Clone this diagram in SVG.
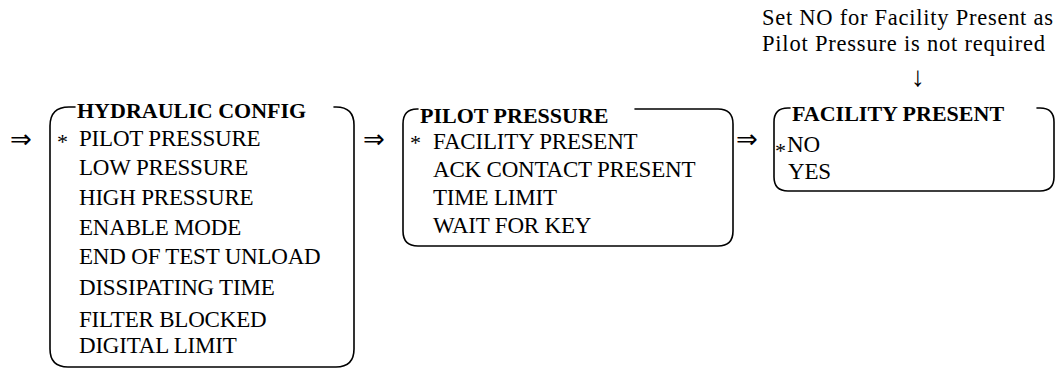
<svg xmlns="http://www.w3.org/2000/svg" width="1057" height="370" viewBox="0 0 1057 370">
<style>
  .frame { fill: none; stroke: #000; stroke-width: 1.6; stroke-linecap: round; }
  .t { font-family: "Liberation Serif", "Times New Roman", serif; font-size: 23px; fill: #000; letter-spacing: -0.2px; }
  .title { font-family: "Liberation Serif", "Times New Roman", serif; font-size: 22px; font-weight: bold; fill: #000; }
  .star { font-family: "Liberation Serif", "Times New Roman", serif; font-size: 22px; fill: #000; }
  .note { font-family: "Liberation Serif", "Times New Roman", serif; font-size: 22.5px; fill: #000; }
  .arr { font-family: "DejaVu Sans", sans-serif; font-size: 26px; fill: #000; }
  .down { font-family: "Liberation Serif", serif; font-size: 28px; fill: #000; }
</style>
<rect width="1057" height="370" fill="#fff"/>

<g id="connectors">
  <text class="arr" x="10" y="148">⇒</text>
  <text class="arr" x="363" y="148">⇒</text>
  <text class="arr" x="736" y="148">⇒</text>
  <text class="down" x="911" y="86">↓</text>
</g>

<g id="note">
  <text class="note" x="762" y="25" textLength="291" lengthAdjust="spacing">Set NO for Facility Present as</text>
  <text class="note" x="762" y="51" textLength="283" lengthAdjust="spacing">Pilot Pressure is not required</text>
</g>

<g id="hydraulic-config">
  <path class="frame" d="M 75 107 H 69 Q 50 107 50 126 V 349 Q 50 367 68 367 H 336 Q 354 367 354 349 V 125 Q 354 107 336 107 H 334"/>
  <text class="title" x="77" y="118">HYDRAULIC CONFIG</text>
  <text class="star" x="57" y="149">*</text>
  <text class="t" x="79" y="146">PILOT PRESSURE</text>
  <text class="t" x="79" y="175">LOW PRESSURE</text>
  <text class="t" x="79" y="205">HIGH PRESSURE</text>
  <text class="t" x="79" y="235">ENABLE MODE</text>
  <text class="t" x="79" y="264">END OF TEST UNLOAD</text>
  <text class="t" x="79" y="295">DISSIPATING TIME</text>
  <text class="t" x="79" y="327">FILTER BLOCKED</text>
  <text class="t" x="79" y="353">DIGITAL LIMIT</text>
</g>

<g id="pilot-pressure">
  <path class="frame" d="M 418 109 H 417 Q 403 109 403 124 V 231 Q 403 246 418 246 H 718 Q 733 246 733 231 V 124 Q 733 109 718 109 H 635"/>
  <text class="title" x="420" y="123">PILOT PRESSURE</text>
  <text class="star" x="410" y="150">*</text>
  <text class="t" x="433" y="149">FACILITY PRESENT</text>
  <text class="t" x="433" y="177">ACK CONTACT PRESENT</text>
  <text class="t" x="433" y="205">TIME LIMIT</text>
  <text class="t" x="433" y="233">WAIT FOR KEY</text>
</g>

<g id="facility-present">
  <path class="frame" d="M 790 108 H 788 Q 774 108 774 122 V 177 Q 774 191 788 191 H 1040 Q 1054 191 1054 177 V 122 Q 1054 108 1040 108 H 1037"/>
  <text class="title" x="792" y="121">FACILITY PRESENT</text>
  <text class="star" x="775" y="158" font-size="18">*</text>
  <text class="t" x="787" y="152">NO</text>
  <text class="t" x="788" y="179">YES</text>
</g>
</svg>
